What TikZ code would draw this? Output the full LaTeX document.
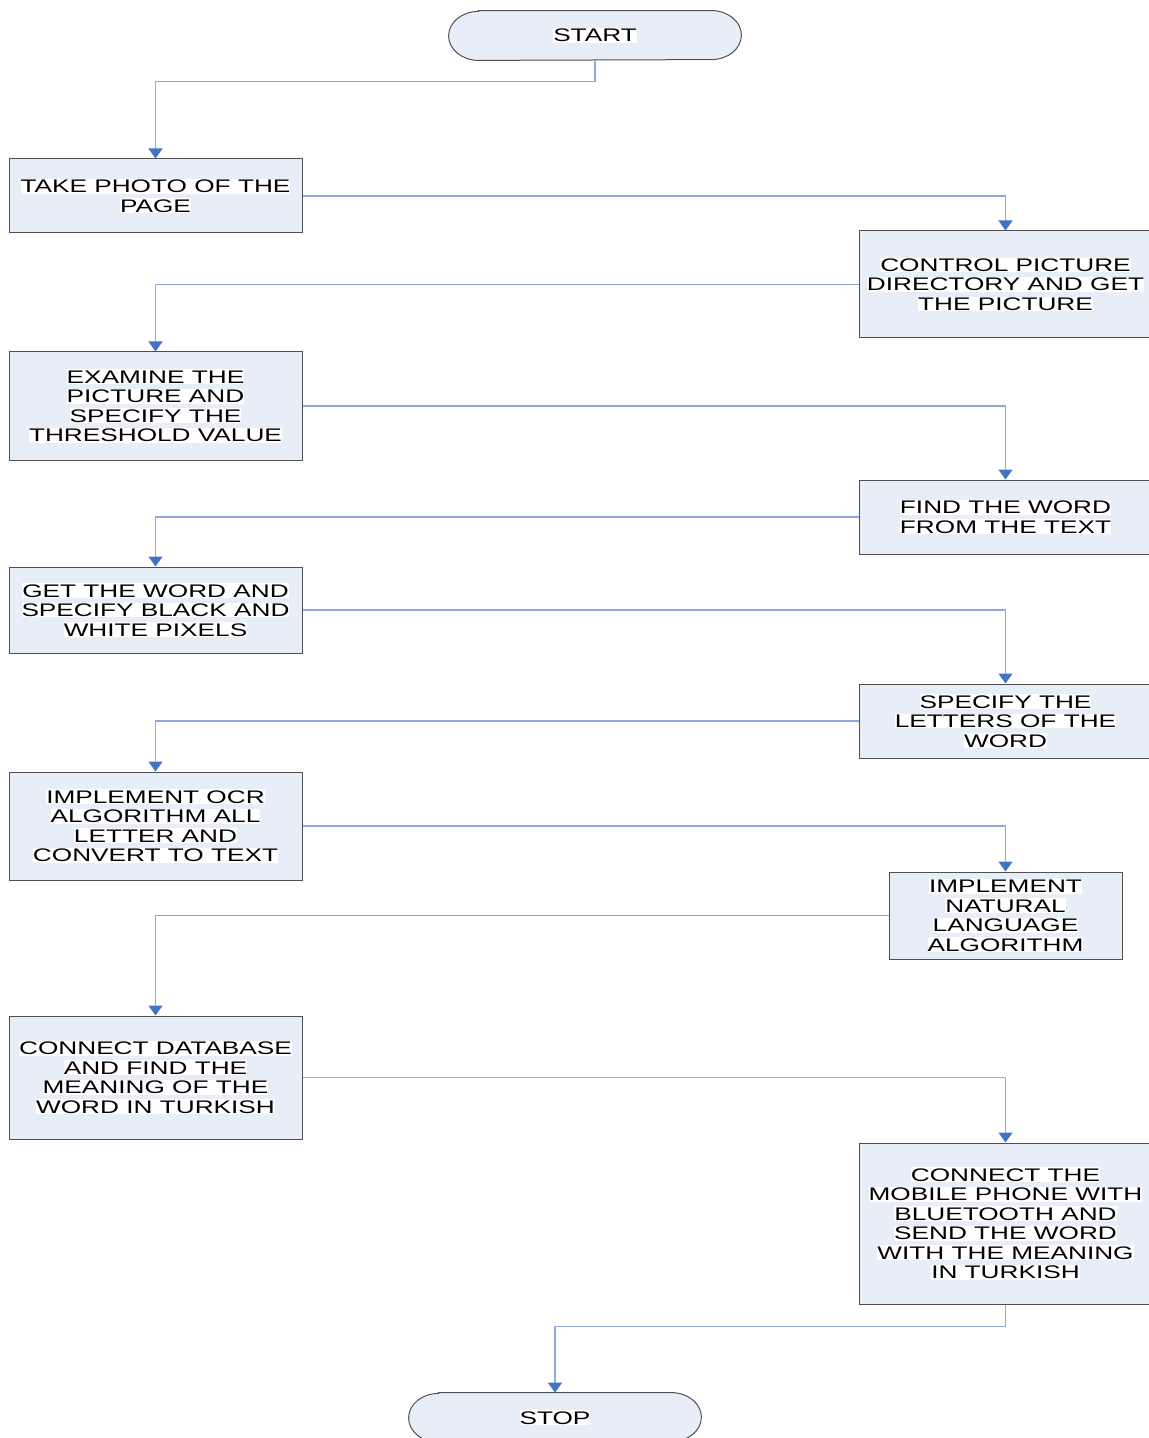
\documentclass[tikz,border=0pt]{standalone}
\usepackage{fontspec}
\setmainfont{Liberation Sans}[FakeStretch=1.44]
\usetikzlibrary{arrows.meta,calc,backgrounds}
\definecolor{boxfill}{HTML}{E8EEF8}
\definecolor{boxline}{HTML}{505050}
\definecolor{linkline}{HTML}{8EA9DB}
\definecolor{tipblue}{HTML}{4472C4}
\setlength{\fboxsep}{0pt}
% one line of box text on a white band
\newcommand\whiteline[1]{\colorbox{white}{\rule[-0.4pt]{0pt}{7.3pt}#1}}

\begin{document}
\begin{tikzpicture}[x=0.5pt,y=-0.5pt,
  every node/.style={font=\fontsize{9.1pt}{9.75pt}\selectfont, align=center, inner sep=0pt},
  stepbox/.style={draw=boxline, fill=boxfill, line width=0.5pt, minimum width=146.5pt},
  termbox/.style={minimum width=146pt, minimum height=24.5pt},
  term/.style={draw=boxline, fill=boxfill, line width=0.5pt},
  link/.style={draw=linkline, line width=0.6pt, -{Triangle[width=7pt,length=5pt,color=tipblue]}}]
\useasboundingbox (0,0) rectangle (1149,1438);

% terminals
\node[termbox] (start) at (595,35.5) {\whiteline{START}};
\node[termbox] (stop) at (555,1417.5) {\whiteline{STOP}};

% process steps
\node[stepbox, minimum height=37pt] (b1) at (155.5,196)
  {\whiteline{TAKE PHOTO OF THE}\\\whiteline{PAGE}};
\node[stepbox, minimum height=53.5pt] (b2) at (1005.5,284.5)
  {\whiteline{CONTROL PICTURE}\\\whiteline{DIRECTORY AND GET}\\\whiteline{THE PICTURE}};
\node[stepbox, minimum height=54pt] (b3) at (155.5,406)
  {\whiteline{EXAMINE THE}\\\whiteline{PICTURE AND}\\\whiteline{SPECIFY THE}\\\whiteline{THRESHOLD VALUE}};
\node[stepbox, minimum height=37pt] (b4) at (1005.5,517)
  {\whiteline{FIND THE WORD}\\\whiteline{FROM THE TEXT}};
\node[stepbox, minimum height=43pt] (b5) at (155.5,610)
  {\whiteline{GET THE WORD AND}\\\whiteline{SPECIFY BLACK AND}\\\whiteline{WHITE PIXELS}};
\node[stepbox, minimum height=37pt] (b6) at (1005.5,721)
  {\whiteline{SPECIFY THE}\\\whiteline{LETTERS OF THE}\\\whiteline{WORD}};
\node[stepbox, minimum height=54pt] (b7) at (155.5,826)
  {\whiteline{IMPLEMENT OCR}\\\whiteline{ALGORITHM ALL}\\\whiteline{LETTER AND}\\\whiteline{CONVERT TO TEXT}};
\node[stepbox, minimum width=116.5pt, minimum height=43.5pt] (b8) at (1005.5,915.5)
  {\whiteline{IMPLEMENT}\\\whiteline{NATURAL}\\\whiteline{LANGUAGE}\\\whiteline{ALGORITHM}};
\node[stepbox, minimum height=61.5pt] (b9) at (155.5,1077.5)
  {\whiteline{CONNECT DATABASE}\\\whiteline{AND FIND THE}\\\whiteline{MEANING OF THE}\\\whiteline{WORD IN TURKISH}};
\node[stepbox, minimum height=80.5pt] (b10) at (1005.5,1223.5)
  {\whiteline{CONNECT THE}\\\whiteline{MOBILE PHONE WITH}\\\whiteline{BLUETOOTH AND}\\\whiteline{SEND THE WORD}\\\whiteline{WITH THE MEANING}\\\whiteline{IN TURKISH}};

% stadium outlines of the terminals
\begin{scope}[on background layer]
  \foreach \n in {start,stop}
    \draw[term] ([xshift=15pt]\n.north west) -- ([xshift=-15pt]\n.north east)
      arc[start angle=90, end angle=-90, x radius=15pt, y radius=12.25pt]
      -- ([xshift=15pt]\n.south west)
      arc[start angle=270, end angle=90, x radius=15pt, y radius=12.25pt] -- cycle;
\end{scope}

% connectors
\draw[link] (start.south) -- ++(0,21) -| (b1.north);
\draw[link] (b1.east) -| (b2.north);
\draw[link] (b2.west) -| (b3.north);
\draw[link] (b3.east) -| (b4.north);
\draw[link] (b4.west) -| (b5.north);
\draw[link] (b5.east) -| (b6.north);
\draw[link] (b6.west) -| (b7.north);
\draw[link] (b7.east) -| (b8.north);
\draw[link] (b8.west) -| (b9.north);
\draw[link] (b9.east) -| (b10.north);
\draw[link] (b10.south) -- ++(0,22) -| (stop.north);
\end{tikzpicture}
\end{document}
